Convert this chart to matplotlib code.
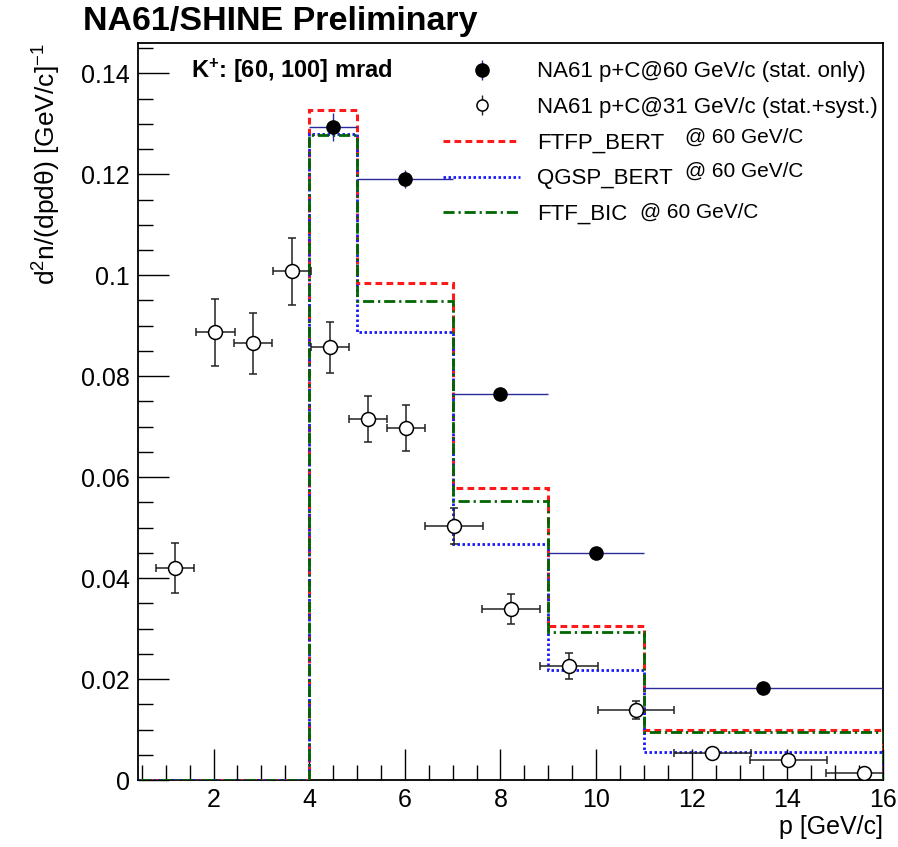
import matplotlib
matplotlib.use("Agg")
import matplotlib.pyplot as plt
from matplotlib.lines import Line2D
from matplotlib.ticker import MultipleLocator
import numpy as np

plt.rcParams['font.family'] = ['Liberation Sans', 'DejaVu Sans']
plt.rcParams['mathtext.fontset'] = 'custom'
plt.rcParams['mathtext.rm'] = 'Liberation Sans'
plt.rcParams['mathtext.it'] = 'Liberation Sans'
plt.rcParams['mathtext.bf'] = 'Liberation Sans:bold'

# ---- data ----
# NA61 p+C @ 60 GeV/c (stat. only)
p60_x = [4.5, 6.0, 8.0, 10.0, 13.5]
p60_xlo = [4.0, 5.0, 7.0, 9.0, 11.0]
p60_xhi = [5.0, 7.0, 9.0, 11.0, 16.0]
p60_y = [0.1293, 0.1190, 0.0764, 0.0449, 0.0182]
p60_yerr = [0.0028, 0.0018, 0.0010, 0.0008, 0.0006]

# NA61 p+C @ 31 GeV/c (stat.+syst.)
p31_x = [1.2, 2.04, 2.83, 3.64, 4.44, 5.23, 6.03, 7.03, 8.22, 9.43, 10.83, 12.43, 14.02, 15.6]
p31_xerr = [0.4, 0.4, 0.4, 0.4, 0.4, 0.4, 0.4, 0.6, 0.6, 0.6, 0.8, 0.8, 0.8, 0.8]
p31_y = [0.0420, 0.0887, 0.0865, 0.1008, 0.0857, 0.0715, 0.0697, 0.0503, 0.0339,
         0.0226, 0.0139, 0.0053, 0.0040, 0.0013]
p31_yerr = [0.0050, 0.0066, 0.0060, 0.0066, 0.0050, 0.0045, 0.0045, 0.0036, 0.0030,
            0.0025, 0.0018, 0.0008, 0.0010, 0.0006]

# Geant4 models @ 60 GeV/c
bin_edges = [0.0, 4.0, 5.0, 7.0, 9.0, 11.0, 16.0]
ftfp_bert = [0.0, 0.1327, 0.0985, 0.0578, 0.0305, 0.0099]
qgsp_bert = [0.0, 0.1279, 0.0887, 0.0467, 0.0218, 0.0055]
ftf_bic = [0.0, 0.1278, 0.0949, 0.0552, 0.0293, 0.0095]

x_ticks = [2, 4, 6, 8, 10, 12, 14, 16]
y_ticks = [0, 0.02, 0.04, 0.06, 0.08, 0.1, 0.12, 0.14]
y_ticklabels = ['0', '0.02', '0.04', '0.06', '0.08', '0.1', '0.12', '0.14']

# ---- figure ----
fig = plt.figure(figsize=(8.98, 8.47), dpi=100)
ax = fig.add_axes([0.1537, 0.0791, 0.8296, 0.8701])

red_ls = (0, (2.2, 1.4))
blue_ls = (0, (0.9, 0.9))
green_ls = (0, (4.0, 1.4, 0.8, 1.4))

ax.stairs(ftfp_bert, bin_edges, color='#ff1a1a', lw=2.2, linestyle=red_ls, zorder=3)
ax.stairs(qgsp_bert, bin_edges, color='#1a1aff', lw=2.0, linestyle=blue_ls, zorder=3)
ax.stairs(ftf_bic, bin_edges, color='#006600', lw=2.0, linestyle=green_ls, zorder=3)

p60_xerr = [np.array(p60_x) - np.array(p60_xlo), np.array(p60_xhi) - np.array(p60_x)]
ax.errorbar(p60_x, p60_y, xerr=p60_xerr, yerr=p60_yerr, fmt='o', color='black',
            ecolor='#2a2a9a', elinewidth=1.0, capsize=0, ms=9.5, zorder=5)
ax.errorbar(p31_x, p31_y, xerr=p31_xerr, yerr=p31_yerr, fmt='o', mfc='white', mec='black',
            mew=1.1, ecolor='#222222', elinewidth=1.1, capsize=3, capthick=1.1, ms=10, zorder=4)

ax.set_xlim(0.42, 16)
ax.set_ylim(0, 0.146)
ax.set_xticks(x_ticks)
ax.set_yticks(y_ticks)
ax.set_yticklabels(y_ticklabels)
ax.xaxis.set_minor_locator(MultipleLocator(0.5))
ax.yaxis.set_minor_locator(MultipleLocator(0.005))
ax.tick_params(which='both', direction='in', top=False, right=False, labelsize=18, width=1.0,
               color='black')
ax.tick_params(which='major', length=22, pad=6)
ax.tick_params(which='minor', length=11)
for s in ax.spines.values():
    s.set_linewidth(1.3)

ax.set_xlabel('p [GeV/c]', fontsize=18, loc='right', labelpad=2)
ax.set_ylabel('d$^{2}$n/(dpdθ) [GeV/c]$^{-1}$', fontsize=19, loc='top', labelpad=13)

fig.text(0.092, 0.975, 'NA61/SHINE Preliminary', fontsize=24.5, fontweight='bold',
         ha='left', va='center')
ax.text(0.071, 0.962, r'K$^{\mathbf{+}}$: [60, 100] mrad', transform=ax.transAxes,
        fontsize=17, fontweight='bold', ha='left', va='center')

h60 = (Line2D([], [], marker='|', color='#2a2a9a', ms=15, mew=1.0, lw=0),
       Line2D([], [], marker='o', mfc='black', mec='black', ms=9.5, lw=0))
h31 = (Line2D([], [], marker='|', color='#222222', ms=15, mew=1.0, lw=0),
       Line2D([], [], marker='o', mfc='white', mec='black', mew=1.1, ms=8, lw=0))
handles = [
    h60,
    h31,
    Line2D([], [], color='#ff1a1a', lw=2.2, linestyle=red_ls),
    Line2D([], [], color='#1a1aff', lw=2.0, linestyle=blue_ls),
    Line2D([], [], color='#006600', lw=2.0, linestyle=green_ls),
]
labels = ['NA61 p+C@60 GeV/c (stat. only)', 'NA61 p+C@31 GeV/c (stat.+syst.)',
          'FTFP_BERT', 'QGSP_BERT', 'FTF_BIC']
leg = ax.legend(handles, labels, loc='upper left', bbox_to_anchor=(0.398, 0.987),
                frameon=False, fontsize=16, handlelength=3.46, handletextpad=0.77,
                labelspacing=0.66, borderaxespad=0)

ax.text(0.7346, 0.8725, '@ 60 GeV/C', transform=ax.transAxes, fontsize=15, ha='left', va='center')
ax.text(0.7346, 0.8263, '@ 60 GeV/C', transform=ax.transAxes, fontsize=15, ha='left', va='center')
ax.text(0.6743, 0.7707, '@ 60 GeV/C', transform=ax.transAxes, fontsize=15, ha='left', va='center')

fig.savefig('out.png', dpi=100)
